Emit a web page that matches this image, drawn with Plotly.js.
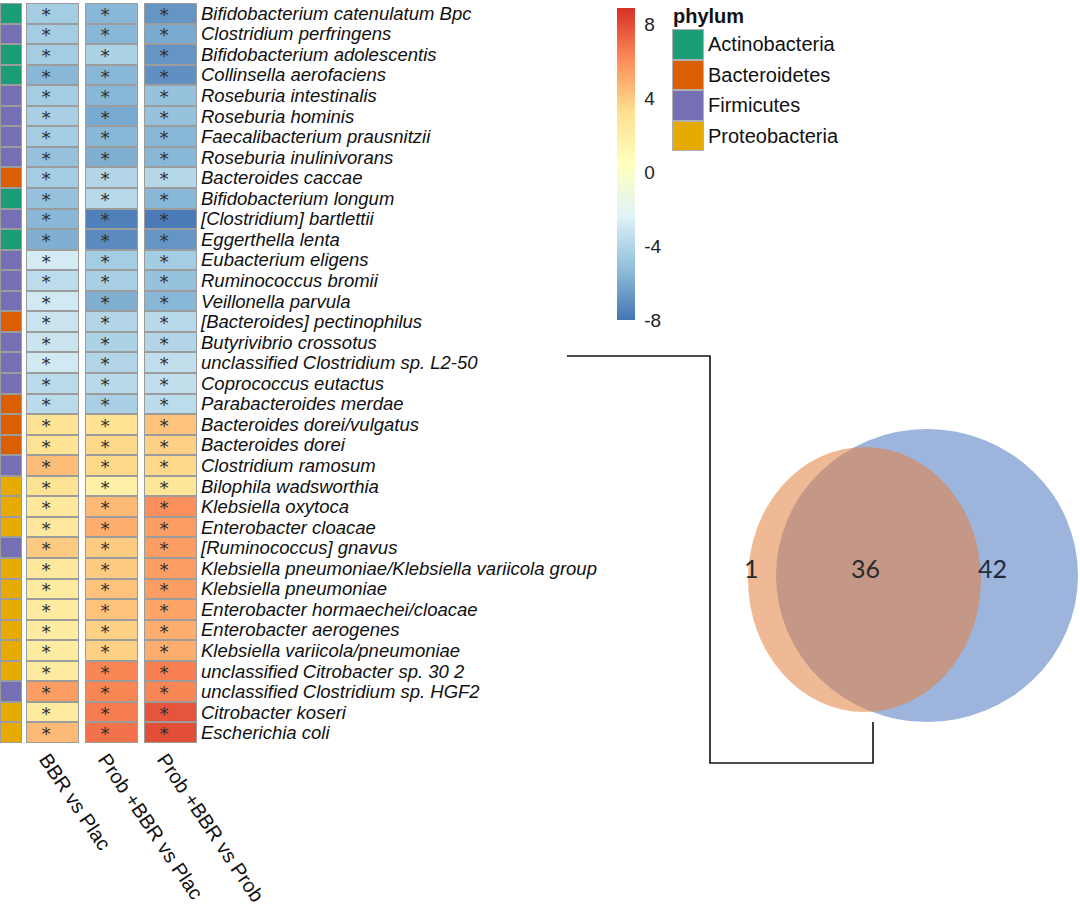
<!DOCTYPE html>
<html><head><meta charset="utf-8">
<script src="https://cdn.plot.ly/plotly-3.0.1.min.js"></script>
<style>html,body{margin:0;padding:0;background:#fff}</style>
</head><body>
<div id="chart" style="width:1080px;height:907px"></div>
<script>
// ---------------- data ----------------
const species = [
  'Bifidobacterium catenulatum Bpc','Clostridium perfringens','Bifidobacterium adolescentis',
  'Collinsella aerofaciens','Roseburia intestinalis','Roseburia hominis',
  'Faecalibacterium prausnitzii','Roseburia inulinivorans','Bacteroides caccae',
  'Bifidobacterium longum','[Clostridium] bartlettii','Eggerthella lenta',
  'Eubacterium eligens','Ruminococcus bromii','Veillonella parvula',
  '[Bacteroides] pectinophilus','Butyrivibrio crossotus','unclassified Clostridium sp. L2-50',
  'Coprococcus eutactus','Parabacteroides merdae','Bacteroides dorei/vulgatus',
  'Bacteroides dorei','Clostridium ramosum','Bilophila wadsworthia',
  'Klebsiella oxytoca','Enterobacter cloacae','[Ruminococcus] gnavus',
  'Klebsiella pneumoniae/Klebsiella variicola group','Klebsiella pneumoniae','Enterobacter hormaechei/cloacae',
  'Enterobacter aerogenes','Klebsiella variicola/pneumoniae','unclassified Citrobacter sp. 30 2',
  'unclassified Clostridium sp. HGF2','Citrobacter koseri','Escherichia coli'
];
const comparisons = ['BBR vs Plac','Prob +BBR vs Plac','Prob +BBR vs Prob'];
const bbrVsPlac = [-4.5,-4.5,-4.5,-5.5,-4.5,-4.3,-4.5,-5.0,-4.5,-5.0,-5.5,-5.8,-2.8,-3.6,-2.9,-3.2,-3.1,-2.9,-3.7,-3.7,
  3.0,3.0,4.5,3.0,2.5,2.5,4.0,2.5,2.3,2.3,2.2,2.2,2.3,5.5,2.3,4.6];
const probBbrVsPlac = [-5.5,-5.5,-4.2,-5.5,-5.5,-6.0,-5.5,-5.8,-4.0,-3.8,-7.6,-7.2,-4.5,-4.3,-5.8,-4.0,-4.2,-4.0,-3.8,-4.3,
  3.0,3.5,3.5,1.8,4.6,5.0,4.0,4.0,4.3,4.3,3.8,3.8,6.3,6.3,6.6,6.9];
const probBbrVsProb = [-6.8,-6.0,-6.8,-7.0,-5.0,-5.0,-5.5,-5.5,-3.9,-5.5,-7.8,-6.8,-4.5,-5.0,-5.5,-3.8,-4.0,-3.5,-3.5,-3.6,
  4.3,3.8,3.5,2.8,6.0,5.5,5.5,5.5,5.5,5.3,5.0,5.0,6.5,6.3,7.8,8.0];
const significance = species.map(() => ['*','*','*']);
const phyla = ['Actinobacteria','Bacteroidetes','Firmicutes','Proteobacteria'];
const phylumColors = ['#1B9E77','#D95F02','#7570B3','#E6AB02'];
const speciesPhylum = ['Actinobacteria','Firmicutes','Actinobacteria','Actinobacteria','Firmicutes','Firmicutes',
  'Firmicutes','Firmicutes','Bacteroidetes','Actinobacteria','Firmicutes','Actinobacteria',
  'Firmicutes','Firmicutes','Firmicutes','Bacteroidetes','Firmicutes','Firmicutes',
  'Firmicutes','Bacteroidetes','Bacteroidetes','Bacteroidetes','Firmicutes','Proteobacteria',
  'Proteobacteria','Proteobacteria','Firmicutes','Proteobacteria','Proteobacteria','Proteobacteria',
  'Proteobacteria','Proteobacteria','Proteobacteria','Firmicutes','Proteobacteria','Proteobacteria'];
const colorTicks = [-8,-4,0,4,8];
const colorTickText = ['-8','-4','0','4','8'];
const vennLabels = ['1','36','42'];   // only set A, A∩B, only set B

// ---------------- layout helpers ----------------
const W = 1080, H = 907;
const px = v => v / W;
const py = v => 1 - v / H;
const FONT = 'Liberation Sans, Arial, sans-serif';

const zMatrix = species.map((s, i) => [bbrVsPlac[i], probBbrVsPlac[i], probBbrVsProb[i]]);
const zMin = -8, zMax = 8.9;
const rdylbu = ['#4575B4','#91BFDB','#E0F3F8','#FFFFBF','#FEE090','#FC8D59','#D73027'];
const heatScale = rdylbu.map((c, i) => [i / (rdylbu.length - 1), c]);

const discreteScale = [];
phylumColors.forEach((c, k) => {
  discreteScale.push([k / phylumColors.length, c]);
  discreteScale.push([(k + 1) / phylumColors.length, c]);
});
const grey = '#9c9c9c';
const greyScale = [[0, grey], [1, grey]];
const phylumIdx = speciesPhylum.map(p => [phyla.indexOf(p)]);

// flattened significance marks
const sigX = [], sigY = [], sigT = [];
species.forEach((s, i) => comparisons.forEach((c, j) => {
  sigX.push(c); sigY.push(s); sigT.push(significance[i][j]);
}));

const traces = [
  {type:'heatmap', x:comparisons, y:species, z:zMatrix.map(r => r.map(() => 0)),
   colorscale:greyScale, showscale:false, xgap:6, ygap:0, hoverinfo:'skip', xaxis:'x', yaxis:'y'},
  {type:'heatmap', x:comparisons, y:species, z:zMatrix, zmin:zMin, zmax:zMax,
   colorscale:heatScale, xgap:8, ygap:2,
   colorbar:{x:px(617), xanchor:'left', y:py(8), yanchor:'top', len:312, lenmode:'pixels',
     thickness:18, outlinewidth:0, tickvals:colorTicks, ticktext:colorTickText,
     ticks:'outside', ticklen:6, tickcolor:'rgba(0,0,0,0)', xpad:0, ypad:0,
     tickfont:{family:FONT, size:19, color:'#222'}},
   xaxis:'x', yaxis:'y'},
  {type:'scatter', mode:'text', x:sigX, y:sigY, text:sigT, textposition:'middle center',
   textfont:{family:'DejaVu Sans, sans-serif', size:18.5, color:'#2e2e2e'}, hoverinfo:'skip',
   xaxis:'x4', yaxis:'y4'},
  {type:'heatmap', x:['phylum'], y:species, z:phylumIdx.map(() => [0]),
   colorscale:greyScale, showscale:false, ygap:0, hoverinfo:'skip', xaxis:'x2', yaxis:'y'},
  {type:'heatmap', x:['phylum'], y:species, z:phylumIdx, zmin:-0.5, zmax:3.5,
   colorscale:discreteScale, showscale:false, xgap:2, ygap:2, xaxis:'x2', yaxis:'y'},
  {type:'heatmap', x:['key'], y:phyla, z:phyla.map(() => [0]),
   colorscale:[[0,'#b0b0b0'],[1,'#b0b0b0']], showscale:false, hoverinfo:'skip', xaxis:'x3', yaxis:'y3'},
  {type:'heatmap', x:['key'], y:phyla, z:phyla.map((p, k) => [k]), zmin:-0.5, zmax:3.5,
   colorscale:discreteScale, showscale:false, xgap:2, ygap:2, xaxis:'x3', yaxis:'y3'},
  // invisible carrier so the column-label axis is drawn
  {type:'scatter', mode:'markers', x:comparisons, y:comparisons.map(() => species[0]),
   marker:{opacity:0}, hoverinfo:'skip', xaxis:'x5', yaxis:'y'}
];

const bare = {showgrid:false, zeroline:false, showline:false, ticks:'', fixedrange:true};
const layout = {
  width:W, height:H, margin:{l:0, r:0, t:0, b:0},
  paper_bgcolor:'#fff', plot_bgcolor:'rgba(0,0,0,0)',
  showlegend:false,
  xaxis:Object.assign({}, bare, {domain:[px(23), px(200)], anchor:'y', showticklabels:false}),
  xaxis5:Object.assign({}, bare, {domain:[px(17), px(194)], anchor:'y',
    type:'category', categoryarray:comparisons, range:[-0.5, 2.5], tickangle:56,
    tickmode:'array', tickvals:comparisons, ticktext:comparisons,
    tickfont:{family:FONT, size:20, color:'#111'}}),
  yaxis:Object.assign({}, bare, {domain:[py(743), py(3)], anchor:'x', side:'right',
    type:'category', categoryarray:species, range:[species.length - 0.5, -0.5],
    tickmode:'array', tickvals:species, ticktext:species,
    tickfont:{family:FONT, size:18.5, color:'#111', style:'italic'}}),
  xaxis4:Object.assign({}, bare, {domain:[px(16.5), px(193.5)], anchor:'y4', type:'category',
    categoryarray:comparisons, range:[-0.5, 2.5], showticklabels:false}),
  yaxis4:Object.assign({}, bare, {domain:[py(746), py(6)], anchor:'x4', type:'category',
    categoryarray:species, range:[species.length - 0.5, -0.5], showticklabels:false}),
  xaxis2:Object.assign({}, bare, {domain:[px(0), px(22)], anchor:'y', showticklabels:false}),
  xaxis3:Object.assign({}, bare, {domain:[px(672), px(704)], anchor:'y3', showticklabels:false}),
  yaxis3:Object.assign({}, bare, {domain:[py(151), py(29)], anchor:'x3', side:'right',
    autorange:'reversed', tickmode:'array', tickvals:phyla, ticktext:phyla,
    ticklabelstandoff:3, tickfont:{family:FONT, size:20, color:'#111'}}),
  annotations:[
    {text:'<b>phylum</b>', xref:'paper', yref:'paper', x:px(671), y:py(16), xanchor:'left', yanchor:'middle',
     showarrow:false, font:{family:FONT, size:20, color:'#111'}},
    {text:vennLabels[0], xref:'paper', yref:'paper', x:px(761), y:py(568), showarrow:false,
     font:{family:'Lato, Open Sans', size:25, color:'#2a2a2a'}},
    {text:vennLabels[1], xref:'paper', yref:'paper', x:px(882), y:py(568), showarrow:false,
     font:{family:'Lato, Open Sans', size:25, color:'#2a2a2a'}},
    {text:vennLabels[2], xref:'paper', yref:'paper', x:px(1009), y:py(568), showarrow:false,
     font:{family:'Lato, Open Sans', size:25, color:'#1f2a3a'}}
  ],
  shapes:[
    {type:'circle', xref:'paper', yref:'paper', x0:px(776), x1:px(1078), y0:py(722), y1:py(429),
     fillcolor:'#9DB4DD', line:{width:0}, layer:'below'},
    {type:'circle', xref:'paper', yref:'paper', x0:px(748), x1:px(981), y0:py(712), y1:py(447),
     fillcolor:'rgb(227,127,62)', opacity:0.55, line:{width:0}, layer:'below'},
    {type:'path', xref:'paper', yref:'paper',
     path:`M ${px(567)} ${py(356)} L ${px(710)} ${py(356)} L ${px(710)} ${py(763)} L ${px(873)} ${py(763)} L ${px(873)} ${py(722)}`,
     line:{color:'#111', width:1.6}}
  ]
};

Plotly.newPlot('chart', traces, layout, {staticPlot:true, displayModeBar:false});
</script>
</body></html>
